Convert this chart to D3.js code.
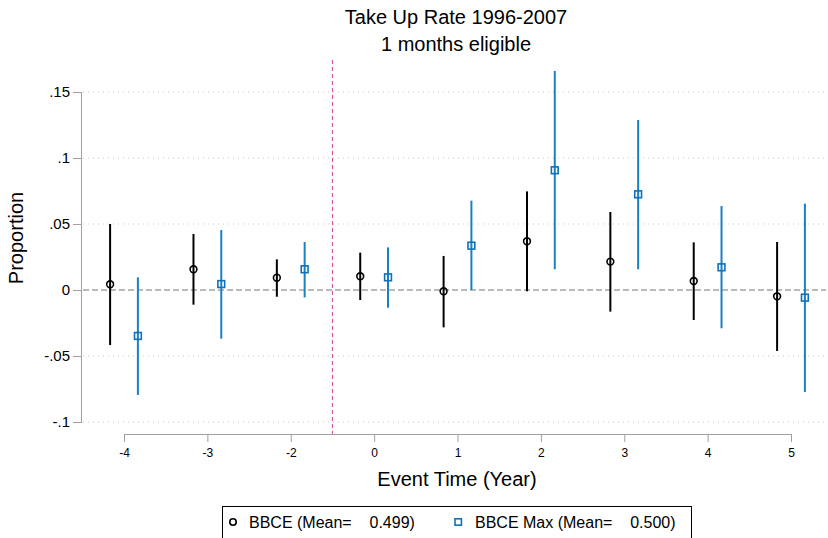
<!DOCTYPE html>
<html>
<head>
<meta charset="utf-8">
<script src="https://cdn.jsdelivr.net/npm/d3@7"></script>
<style>
  html, body { margin: 0; padding: 0; background: #fff; }
  svg { display: block; font-family: "Liberation Sans", Arial, Helvetica, sans-serif; }
</style>
</head>
<body>
<svg id="chart" width="828" height="538"></svg>
<script>
// Event-study estimates with 95% confidence intervals
const eventTimes = [-4, -3, -2, 0, 1, 2, 3, 4, 5];

const bbceEst   = [0.0043, 0.0157, 0.0093, 0.0104, -0.0010, 0.0369, 0.0215, 0.0068, -0.0048];
const bbceLo    = [-0.0417, -0.0111, -0.0051, -0.0076, -0.0283, -0.0010, -0.0164, -0.0227, -0.0462];
const bbceHi    = [0.0500, 0.0424, 0.0232, 0.0283, 0.0258, 0.0747, 0.0591, 0.0361, 0.0364];

const maxEst    = [-0.0348, 0.0045, 0.0157, 0.0096, 0.0336, 0.0907, 0.0725, 0.0172, -0.0058];
const maxLo     = [-0.0795, -0.0369, -0.0056, -0.0134, 0.0000, 0.0157, 0.0157, -0.0290, -0.0773];
const maxHi     = [0.0096, 0.0455, 0.0364, 0.0323, 0.0677, 0.1660, 0.1288, 0.0636, 0.0654];

const yTicks = [-0.1, -0.05, 0, 0.05, 0.1, 0.15];
const yTickLabels = ["-.1", "-.05", "0", ".05", ".1", ".15"];

const titleLines = ["Take Up Rate 1996-2007", "1 months eligible"];
const legendLabels = ["BBCE (Mean=    0.499)", "BBCE Max (Mean=    0.500)"];

const BLACK = "#000000";
const BLUE = "#1a80c4";
const BLUE_MARK = "#0f72b8";

const svg = d3.select("#chart");

const x = d3.scaleLinear().domain([0, eventTimes.length - 1]).range([124, 791]);
const y = d3.scaleLinear().domain([-0.1, 0.15]).range([422, 92]);
const offset = 1 / 6;
const plotLeft = 82, plotRight = 826, plotTop = 60, plotBottom = 434;

// Titles
svg.selectAll("text.title").data(titleLines).join("text")
  .attr("class", "title")
  .attr("x", 456).attr("y", (d, i) => 24 + i * 27)
  .attr("text-anchor", "middle")
  .attr("font-size", 20).attr("fill", "#000")
  .text(d => d);

// Horizontal grid
const grid = svg.append("g");
grid.selectAll("line").data(yTicks.filter(v => v !== 0)).join("line")
  .attr("x1", plotLeft + 1).attr("x2", plotRight)
  .attr("y1", d => y(d)).attr("y2", d => y(d))
  .attr("stroke", "#c8c8c8").attr("stroke-width", 1)
  .attr("stroke-dasharray", "1,4");

// Zero reference line
svg.append("line")
  .attr("x1", plotLeft + 1).attr("x2", plotRight)
  .attr("y1", y(0)).attr("y2", y(0))
  .attr("stroke", "#777").attr("stroke-width", 1.2)
  .attr("stroke-dasharray", "6,3");

// Treatment onset line
svg.append("line")
  .attr("x1", x(2.5)).attr("x2", x(2.5))
  .attr("y1", plotTop).attr("y2", plotBottom)
  .attr("stroke", "#d6549a").attr("stroke-width", 1.1)
  .attr("stroke-dasharray", "4,3");

// Y axis
const yAxis = d3.axisLeft(y).tickValues(yTicks)
  .tickFormat((d, i) => yTickLabels[i]).tickSize(9).tickPadding(3);
const gy = svg.append("g").attr("transform", `translate(${plotLeft},0)`).call(yAxis);
gy.select(".domain").attr("stroke", "#a0a0a0").attr("d", `M-0.5,${y(0.15)}V${y(-0.1)}`);
gy.selectAll(".tick line").attr("stroke", "#a0a0a0");
gy.selectAll(".tick text").attr("font-size", 15).attr("fill", "#000")
  .attr("font-family", "'Liberation Sans', Arial, sans-serif");

// X axis
const xAxis = d3.axisBottom(x).tickValues(d3.range(eventTimes.length))
  .tickFormat(i => String(eventTimes[i])).tickSize(8).tickPadding(6);
const gx = svg.append("g").attr("transform", `translate(0,${plotBottom})`).call(xAxis);
gx.select(".domain").attr("stroke", "#a0a0a0").attr("d", `M${x(0)},0.5H${x(eventTimes.length - 1)}`);
gx.selectAll(".tick line").attr("stroke", "#a0a0a0");
gx.selectAll(".tick text").attr("font-size", 12).attr("fill", "#000")
  .attr("font-family", "'Liberation Sans', Arial, sans-serif");

// Axis titles
svg.append("text")
  .attr("x", 457).attr("y", 486)
  .attr("text-anchor", "middle").attr("font-size", 20)
  .text("Event Time (Year)");
svg.append("text")
  .attr("transform", "translate(23,238) rotate(-90)")
  .attr("text-anchor", "middle").attr("font-size", 20)
  .text("Proportion");

// Series
function drawSeries(est, lo, hi, shift, color, markColor, shape) {
  const g = svg.append("g");
  const idx = d3.range(est.length);
  g.selectAll("line.ci").data(idx).join("line")
    .attr("class", "ci")
    .attr("x1", i => x(i + shift)).attr("x2", i => x(i + shift))
    .attr("y1", i => y(lo[i])).attr("y2", i => y(hi[i]))
    .attr("stroke", color).attr("stroke-width", 2);
  if (shape === "circle") {
    g.selectAll("circle").data(idx).join("circle")
      .attr("cx", i => x(i + shift)).attr("cy", i => y(est[i]))
      .attr("r", 3.4).attr("fill", "none")
      .attr("stroke", markColor).attr("stroke-width", 1.6);
  } else {
    g.selectAll("rect").data(idx).join("rect")
      .attr("x", i => x(i + shift) - 3.4).attr("y", i => y(est[i]) - 3.4)
      .attr("width", 6.8).attr("height", 6.8).attr("fill", "none")
      .attr("stroke", markColor).attr("stroke-width", 1.6);
  }
}
drawSeries(bbceEst, bbceLo, bbceHi, -offset, BLACK, BLACK, "circle");
drawSeries(maxEst, maxLo, maxHi, offset, BLUE, BLUE_MARK, "square");

// Legend
const lg = svg.append("g");
lg.append("rect")
  .attr("x", 222.5).attr("y", 506.5).attr("width", 469).attr("height", 40)
  .attr("fill", "#fff").attr("stroke", "#000").attr("stroke-width", 1);
lg.append("circle").attr("cx", 233).attr("cy", 522).attr("r", 3.2)
  .attr("fill", "none").attr("stroke", BLACK).attr("stroke-width", 1.6);
lg.append("rect").attr("x", 455).attr("y", 518.8).attr("width", 6.4).attr("height", 6.4)
  .attr("fill", "none").attr("stroke", BLUE_MARK).attr("stroke-width", 1.6);
lg.selectAll("text").data(legendLabels).join("text")
  .attr("x", (d, i) => i === 0 ? 249 : 475).attr("y", 528)
  .attr("font-size", 16).style("white-space", "pre")
  .text(d => d);
</script>
</body>
</html>
